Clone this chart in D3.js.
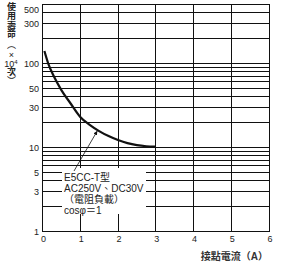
<!DOCTYPE html>
<html>
<head>
<meta charset="utf-8">
<script src="https://cdn.jsdelivr.net/npm/d3@7"></script>
<style>
  body { margin: 0; background: #fff; }
  svg { display: block; }
  text { font-family: "Liberation Sans", Arial, "Noto Sans CJK TC", sans-serif; fill: #222; }
</style>
</head>
<body>
<svg id="chart" width="288" height="269"></svg>
<script>
// Data
var currentA = [0.05, 0.15, 0.3, 0.5, 0.75, 1.0, 1.25, 1.5, 1.75, 2.0, 2.25, 2.5, 2.75, 3.0];
var lifeE4 = [140, 100, 70, 48, 33, 23, 18.5, 15.6, 13.6, 12.2, 11.2, 10.6, 10.3, 10.2];
var xTicks = [0, 1, 2, 3, 4, 5, 6];
var yTickLabels = [1, 3, 5, 10, 30, 50, 100, 300, 500];
var yTitleTop = ["使", "用", "壽", "命", "︵", "×"];
var yTitleBottom = ["次", "︶"];
var xTitle = "接點電流（A）";
var noteLines = ["E5CC-T型", "AC250V、DC30V", "（電阻負載）", "cosφ＝1"];

var svg = d3.select("#chart");
var plotL = 42.5, plotR = 269, plotT = 4.6, plotB = 231.3;

// Scales
var x = d3.scaleLinear().domain([0, 6]).range([plotL, plotR]);
var y = d3.scaleLog().domain([1, 500]).range([plotB, plotT]);
function snap(v) { return Math.round(v - 0.5) + 0.5; }

// Grid
var grid = svg.append("g").attr("stroke", "#111").attr("stroke-width", 1).attr("shape-rendering", "crispEdges");
grid.selectAll("line.h")
    .data(y.ticks())
    .enter().append("line")
    .attr("class", "h")
    .attr("x1", snap(x(0))).attr("x2", snap(x(6)))
    .attr("y1", function(d) { return snap(y(d)); })
    .attr("y2", function(d) { return snap(y(d)); });
grid.selectAll("line.v")
    .data(xTicks)
    .enter().append("line")
    .attr("class", "v")
    .attr("x1", function(d) { return snap(x(d)); })
    .attr("x2", function(d) { return snap(x(d)); })
    .attr("y1", snap(y(500))).attr("y2", snap(y(1)));
grid.append("rect")
    .attr("x", snap(x(0))).attr("y", snap(y(500)))
    .attr("width", snap(x(6)) - snap(x(0)))
    .attr("height", snap(y(1)) - snap(y(500)))
    .attr("fill", "none");

// Axis labels
svg.selectAll("text.xt")
   .data(xTicks)
   .enter().append("text")
   .attr("class", "xt")
   .attr("x", function(d) { return x(d) + 1; })
   .attr("y", 241.5)
   .attr("text-anchor", "middle")
   .style("font-size", "9px")
   .text(function(d) { return d; });
svg.selectAll("text.yt")
   .data(yTickLabels)
   .enter().append("text")
   .attr("class", "yt")
   .attr("x", 39)
   .attr("y", function(d) { return (d === 500 ? y(d) + 5 : y(d)) + 3.5; })
   .attr("text-anchor", "end")
   .style("font-size", "9px")
   .text(function(d) { return d; });

svg.append("text")
   .attr("x", 268).attr("y", 259.5)
   .attr("text-anchor", "end")
   .style("font-size", "10px")
   .style("font-weight", "bold")
   .style("fill", "#333")
   .text(xTitle);

// Vertical y title
var yt = svg.append("g").style("font-size", "9px").attr("text-anchor", "middle").style("fill", "#333");
var topY = [10, 19, 28.5, 37, 48, 58];
yt.selectAll("text.a")
  .data(yTitleTop)
  .enter().append("text")
  .attr("class", "a")
  .attr("x", 11.5)
  .attr("y", function(d, i) { return topY[i]; })
  .style("font-weight", function(d, i) { return i < 4 ? "bold" : "normal"; })
  .text(function(d) { return d; });
var ten = yt.append("text").attr("x", 11).attr("y", 66.5);
ten.append("tspan").text("10");
ten.append("tspan").attr("dy", -3).style("font-size", "6px").text("4");
var botY = [75, 84];
yt.selectAll("text.b")
  .data(yTitleBottom)
  .enter().append("text")
  .attr("class", "b")
  .attr("x", 11.5)
  .attr("y", function(d, i) { return botY[i]; })
  .style("font-weight", function(d, i) { return i === 0 ? "bold" : "normal"; })
  .text(function(d) { return d; });

// Curve
var line = d3.line()
  .x(function(d) { return x(d[0]); })
  .y(function(d) { return y(d[1]); })
  .curve(d3.curveMonotoneX);
svg.append("path")
   .datum(d3.zip(currentA, lifeE4))
   .attr("d", line)
   .attr("fill", "none")
   .attr("stroke", "#111")
   .attr("stroke-width", 2.2);

// Note box + leader
svg.append("rect")
   .attr("x", 62).attr("y", 168).attr("width", 84).attr("height", 46)
   .attr("fill", "#fff");
svg.append("defs").append("marker")
   .attr("id", "arr").attr("viewBox", "0 0 6 6").attr("refX", 6).attr("refY", 3)
   .attr("markerWidth", 5).attr("markerHeight", 5).attr("orient", "auto")
   .append("path").attr("d", "M0,0L6,3L0,6Z").attr("fill", "#111");
svg.append("line")
   .attr("x1", 74).attr("y1", 171)
   .attr("x2", x(1.45)).attr("y2", y(16.3) + 1.5)
   .attr("stroke", "#111").attr("stroke-width", 0.8)
   .attr("marker-end", "url(#arr)");
svg.selectAll("text.note")
   .data(noteLines)
   .enter().append("text")
   .attr("class", "note")
   .attr("x", 64)
   .attr("y", function(d, i) { return 180.5 + i * 11; })
   .style("font-size", "10px")
   .text(function(d) { return d; });
</script>
</body>
</html>
